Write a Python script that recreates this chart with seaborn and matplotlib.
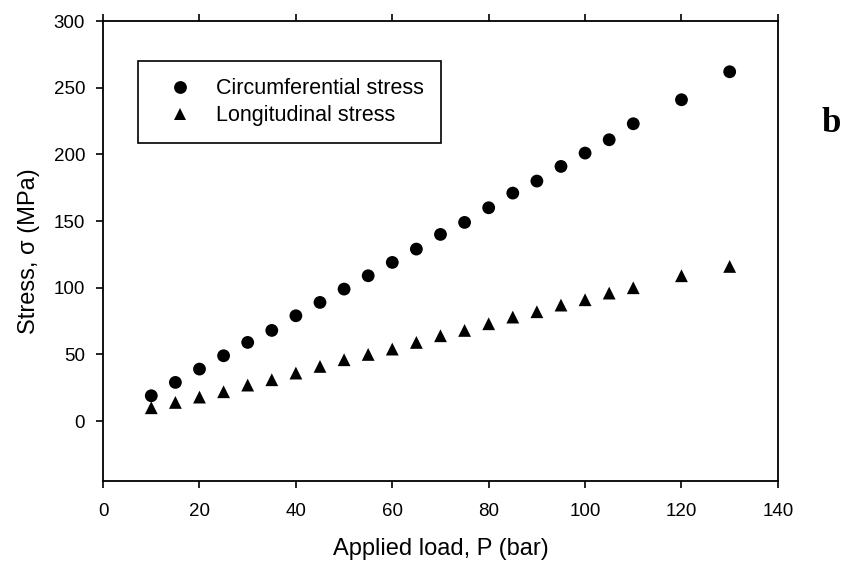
import matplotlib
matplotlib.use("Agg")
import matplotlib.pyplot as plt
import seaborn as sns
import pandas as pd

load = [10, 15, 20, 25, 30, 35, 40, 45, 50, 55, 60, 65, 70, 75, 80, 85, 90, 95, 100, 105, 110, 120, 130]
circ = [19, 29, 39, 49, 59, 68, 79, 89, 99, 109, 119, 129, 140, 149, 160, 171, 180, 191, 201, 211, 223, 241, 262]
longi = [10, 14, 18, 22, 27, 31, 36, 41, 46, 50, 54, 59, 64, 68, 73, 78, 82, 87, 91, 96, 100, 109, 116]
series = ["Circumferential stress", "Longitudinal stress"]
xticks = [0, 20, 40, 60, 80, 100, 120, 140]
yticks = [0, 50, 100, 150, 200, 250, 300]

df = pd.DataFrame({
    "P": load * 2,
    "S": circ + longi,
    "series": [series[0]] * len(load) + [series[1]] * len(load),
})

sns.set_theme(style="ticks")
plt.rcParams["font.family"] = ["Liberation Sans", "DejaVu Sans"]
plt.rcParams["text.color"] = "black"
plt.rcParams["axes.labelcolor"] = "black"

fig = plt.figure(figsize=(8.52, 5.70), dpi=100)
ax = fig.add_axes([0.121, 0.156, 0.792, 0.807])

sns.scatterplot(data=df, x="P", y="S", hue="series", style="series",
                palette=["black", "black"], markers={series[0]: "o", series[1]: "^"},
                s=85, edgecolor="black", linewidth=0, ax=ax, legend=True)

ax.set_xlim(0, 140)
ax.set_ylim(-45, 300)
ax.set_xticks(xticks)
ax.set_yticks(yticks)
ax.tick_params(axis="both", direction="out", length=5, width=1.2, labelsize=13.5,
               colors="black", labelcolor="black")
ax.tick_params(axis="x", top=True, pad=11)
ax.tick_params(axis="y", pad=8)
for sp in ax.spines.values():
    sp.set_visible(True)
    sp.set_color("black")
    sp.set_linewidth(1.3)
ax.set_xlabel("Applied load, P (bar)", fontsize=17, labelpad=13, color="black")
ax.set_ylabel("Stress, σ (MPa)", fontsize=17, labelpad=10, color="black")

leg = ax.legend(loc="upper left", bbox_to_anchor=(0.052, 0.913), fontsize=15.5,
                frameon=True, fancybox=False, edgecolor="black", framealpha=1,
                handlelength=2.3, handletextpad=0.5, borderpad=0.8, labelspacing=0.27,
                markerscale=1.0, borderaxespad=0)
leg.get_frame().set_linewidth(1.2)
for t in leg.get_texts():
    t.set_color("black")

fig.text(0.975, 0.783, "b", fontsize=25, fontweight="bold", color="black",
         family=["Liberation Serif", "DejaVu Serif"], ha="center", va="center")

fig.savefig("out.png", dpi=100)
